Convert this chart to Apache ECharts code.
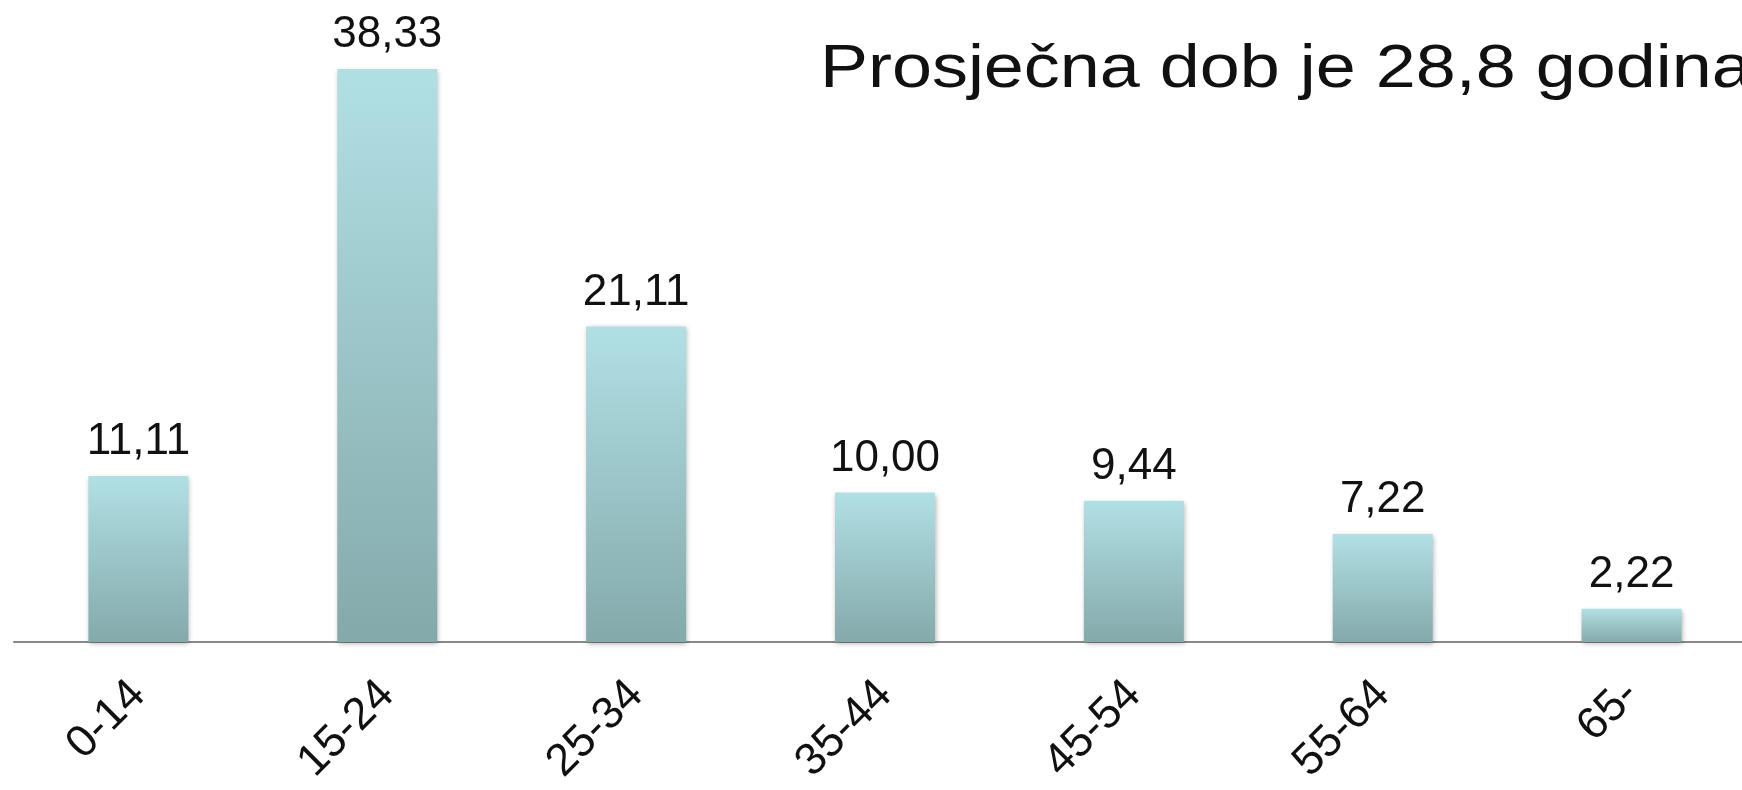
<!DOCTYPE html>
<html>
<head>
<meta charset="utf-8">
<script src="https://cdn.jsdelivr.net/npm/echarts@6/dist/echarts.min.js"></script>
<style>
html,body{margin:0;padding:0;background:#fff;overflow:hidden;width:1742px;height:790px;}
#chart{width:1756px;height:790px;}
</style>
</head>
<body>
<div id="chart"></div>
<script>
const categories = ['0-14', '15-24', '25-34', '35-44', '45-54', '55-64', '65-'];
const values = [11.11, 38.33, 21.11, 10.00, 9.44, 7.22, 2.22];
const titleText = 'Prosječna dob je 28,8 godina';

const chart = echarts.init(document.getElementById('chart'));
const FONT = '"Liberation Sans", Helvetica, Arial, sans-serif';

chart.setOption({
  animation: false,
  backgroundColor: '#ffffff',
  grid: { left: 14, top: 44, right: 0, bottom: 148, containLabel: false },
  xAxis: {
    type: 'category',
    data: categories,
    axisLine: { show: true, lineStyle: { color: '#888888', width: 2 } },
    axisTick: { show: false },
    axisLabel: {
      rotate: 45,
      margin: 46,
      fontFamily: FONT,
      fontSize: 45,
      color: '#111111',
      interval: 0
    },
    splitLine: { show: false }
  },
  yAxis: {
    type: 'value',
    min: 0,
    max: 40,
    show: false,
    splitLine: { show: false }
  },
  series: [{
    type: 'bar',
    data: values,
    barWidth: 100,
    itemStyle: {
      color: new echarts.graphic.LinearGradient(0, 0, 0, 1, [
        { offset: 0, color: '#b1e0e4' },
        { offset: 1, color: '#84a9ab' }
      ]),
      shadowColor: 'rgba(0,0,0,0.3)',
      shadowBlur: 5,
      shadowOffsetX: 1,
      shadowOffsetY: 2
    },
    label: {
      show: true,
      position: 'top',
      distance: 12,
      fontFamily: FONT,
      fontSize: 44,
      color: '#111111',
      formatter: p => p.value.toFixed(2).replace('.', ',')
    }
  }],
  graphic: [{
    type: 'text',
    x: 820,
    y: 39,
    scaleX: 1.16,
    style: {
      text: titleText,
      font: '62px ' + FONT,
      fill: '#111111',
      verticalAlign: 'top'
    }
  }]
});
</script>
</body>
</html>
